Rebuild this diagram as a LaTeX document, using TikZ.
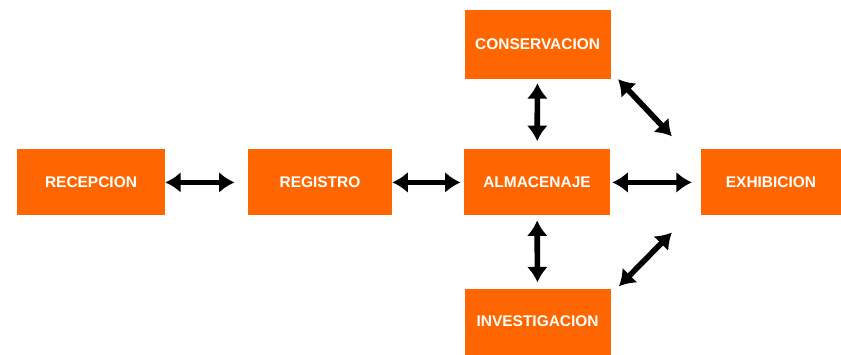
\documentclass[tikz,border=0pt]{standalone}
\usepackage{fontspec}
\setmainfont{Liberation Sans}
\usepackage{xcolor}
\usetikzlibrary{arrows.meta, positioning, calc}
\definecolor{cOrange}{RGB}{255,102,0}
\tikzset{
	area/.style    ={rectangle, minimum width=3.65cm, minimum height=1.65cm, text centered, align=center, fill=cOrange, text=white, inner sep=0pt},
	link/.style    ={{Latex[length=11pt,width=15pt]}-{Latex[length=11pt,width=15pt]}, line width=4pt, black},
}
\begin{document}
\begin{tikzpicture}[font=\fontsize{11}{13}\selectfont\bfseries]
	\useasboundingbox (0,0) rectangle (21.025,8.85);
	% main chain
	\node[area, minimum width=3.7cm] (recep) at (2.275,4.29) {RECEPCION};
	\node[area, minimum width=3.6cm] (regis) at (8.0,4.29) {REGISTRO};
	\node[area] (almac) at (13.425,4.29) {ALMACENAJE};
	\node[area, minimum width=3.5cm] (exhib) at (19.275,4.29) {EXHIBICION};
	\node[area, minimum height=1.725cm] (conse) at (13.44,7.74) {CONSERVACION};
	\node[area] (inves) at (13.44,0.81) {INVESTIGACION};
	% connections
	\draw[link, shorten >=0.33cm] (recep) -- (regis);
	\draw[link, shorten >=0.08cm] (regis) -- (almac);
	\draw[link, shorten <=0.05cm, shorten >=0.22cm] (almac) -- (exhib);
	\draw[link, shorten <=0.1cm, shorten >=0.2cm] (conse) -- (almac);
	\draw[link, shorten <=0.12cm, shorten >=0.15cm] (almac) -- (inves);
	\draw[link] ([xshift=0.18cm]conse.south east) -- ([xshift=-0.72cm,yshift=0.32cm]exhib.north west);
	\draw[link] ([xshift=0.2cm,yshift=0.05cm]inves.north east) -- ([xshift=-0.72cm,yshift=-0.42cm]exhib.south west);
\end{tikzpicture}
\end{document}
